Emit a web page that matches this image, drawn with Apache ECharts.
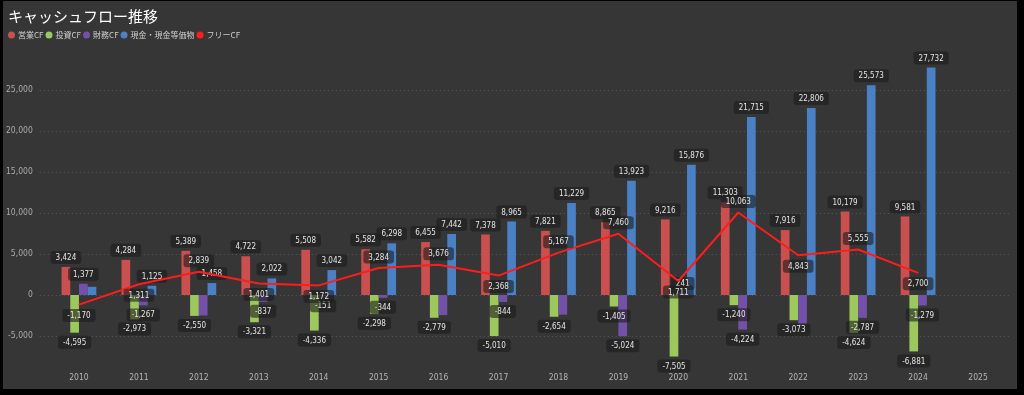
<!DOCTYPE html>
<html><head><meta charset="utf-8">
<script src="https://cdn.jsdelivr.net/npm/echarts@6/dist/echarts.min.js"></script>
<style>
html,body{margin:0;padding:0;background:#000;width:1024px;height:395px;overflow:hidden}
#c{position:absolute;left:3px;top:1px;width:1014px;height:388px;background:#363636}
</style></head><body><div id="c"></div>
<script>
const years = ['2010','2011','2012','2013','2014','2015','2016','2017','2018','2019','2020','2021','2022','2023','2024','2025'];
const operatingCF = [3424,4284,5389,4722,5508,5582,6455,7378,7821,8865,9216,11303,7916,10179,9581,null];
const investingCF = [-4595,-2973,-2550,-3321,-4336,-2298,-2779,-5010,-2654,-1405,-7505,-1240,-3073,-4624,-6881,null];
const financingCF = [1377,-1267,-2500,-837,-151,-344,-2450,-844,-2400,-5024,241,-4224,-3600,-2787,-1279,null];
const cashBalance = [1000,1125,1458,2022,3042,6298,7442,8965,11229,13923,15876,21715,22806,25573,27732,null];
const freeCF = [-1170,1311,2839,1401,1172,3284,3676,2368,5167,7460,1711,10063,4843,5555,2700,null];
const seriesNames = ['営業CF','投資CF','財務CF','現金・現金等価物','フリーCF'];
const titleText = 'キャッシュフロー推移';

// label display config (style only)
const hiddenLabels = {2: [2,6,8,12], 3: [0]};
const fcfLabelBelow = [0,1,3,4,7,10,12,14];
const colors = ['#c9504f','#9dc85e','#7451a9','#4a80c4','#ff1c1c'];
const numFont = "'DejaVu Sans Condensed','Liberation Sans Narrow','Roboto',sans-serif";

const fmt = v => v == null ? '' : Number(v).toLocaleString('en-US');
const labelBase = {
  show: true, color: '#e4e4e4', fontSize: 8, fontFamily: numFont,
  backgroundColor: 'rgba(28,28,28,0.6)', borderRadius: 3, padding: [3,5,2,5],
  distance: 3, formatter: p => fmt(p.value)
};
function barData(arr, si) {
  const hid = hiddenLabels[si] || [];
  return arr.map((v, i) => ({
    value: v,
    label: { position: v >= 0 ? 'top' : 'bottom', show: v != null && hid.indexOf(i) < 0 }
  }));
}
const barArrays = [operatingCF, investingCF, financingCF, cashBalance];
const series = barArrays.map((arr, si) => ({
  name: seriesNames[si], type: 'bar', xAxisIndex: 1, yAxisIndex: 1,
  barWidth: 8.7, barGap: '0%',
  itemStyle: { color: colors[si] },
  label: Object.assign({}, labelBase),
  data: barData(arr, si)
}));
series.push({
  name: seriesNames[4], type: 'line', xAxisIndex: 1, yAxisIndex: 1,
  symbol: 'circle', symbolSize: 1, showSymbol: true, z: 5,
  lineStyle: { color: colors[4], width: 2 },
  itemStyle: { color: colors[4] },
  label: Object.assign({}, labelBase, {distance: 4}),
  data: freeCF.map((v, i) => ({
    value: v,
    label: { position: fcfLabelBelow.indexOf(i) >= 0 ? 'bottom' : 'top', show: v != null }
  }))
});

const yMin = -8000, yMax = 30000;
const chart = echarts.init(document.getElementById('c'));
chart.setOption({
  backgroundColor: '#363636',
  animation: false,
  title: { text: titleText, left: 0, top: 3,
    textStyle: { color: '#ffffff', fontSize: 15, fontWeight: 'normal', fontFamily: "'Noto Sans CJK JP',sans-serif" } },
  legend: {
    left: 0, top: 25, icon: 'circle', itemWidth: 7, itemHeight: 7, itemGap: 2,
    textStyle: { color: '#cfcfcf', fontSize: 8, fontFamily: "'Noto Sans CJK JP',sans-serif", padding: [0,0,0,-2] },
    data: seriesNames
  },
  grid: [
    { left: 34, right: 7, top: 48, bottom: 28.4 },
    { left: 46, right: 9, top: 48, bottom: 28.4 }
  ],
  xAxis: [
    { gridIndex: 0, type: 'value', show: false, min: 0, max: 1 },
    { gridIndex: 1, type: 'category', data: years,
      axisLine: { show: false }, axisTick: { show: false },
      axisLabel: { color: '#b5b5b5', fontSize: 8.5, margin: 13, fontFamily: numFont } }
  ],
  yAxis: [
    { gridIndex: 0, type: 'value', min: yMin, max: yMax, minInterval: 5000, maxInterval: 5000, splitNumber: 7,
      axisLine: { show: false }, axisTick: { show: false },
      axisLabel: { color: '#aaaaaa', fontSize: 8.5, margin: 7, fontFamily: numFont,
        showMinLabel: false, showMaxLabel: false, formatter: v => fmt(v) },
      splitLine: { show: true, showMinLine: false, showMaxLine: false,
        lineStyle: { color: '#5a5a5a', type: [1,3], width: 1 } } },
    { gridIndex: 1, type: 'value', min: yMin, max: yMax, show: false, splitLine: { show: false } }
  ],
  series: series
});
</script></body></html>
